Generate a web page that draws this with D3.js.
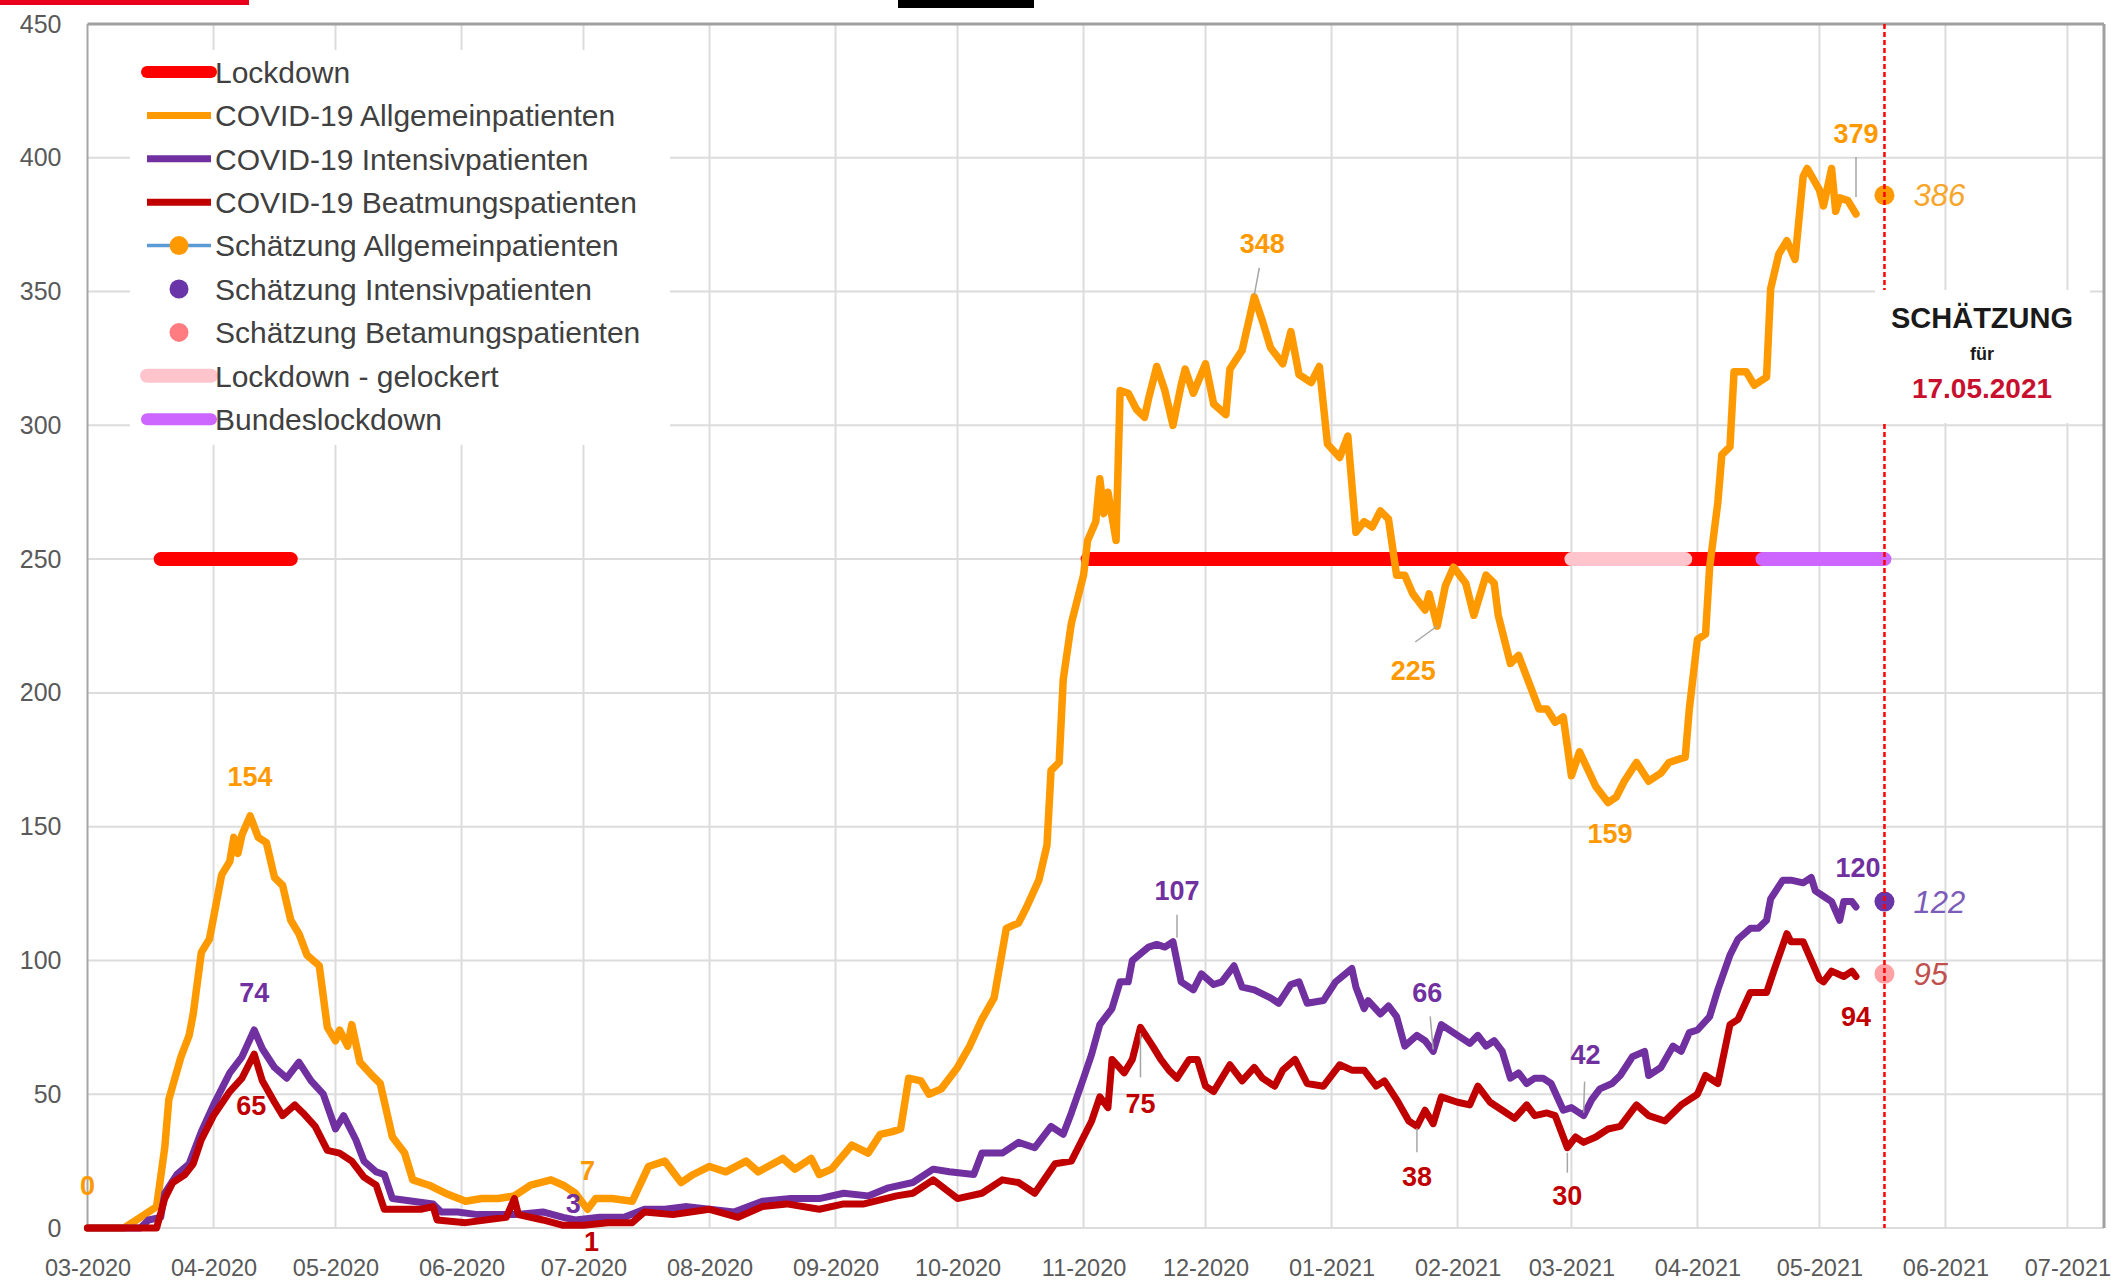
<!DOCTYPE html>
<html>
<head>
<meta charset="utf-8">
<script src="https://cdn.jsdelivr.net/npm/d3@7"></script>
<style>
  html, body { margin: 0; padding: 0; background: #fff; }
  svg { display: block; font-family: "Liberation Sans", Arial, sans-serif; }
</style>
</head>
<body>
<div id="chart"></div>
<script>

// ---- data ----

// COVID-19 Allgemeinpatienten [date, value]
const allgemein = [
  ["2020-03-01", 0], ["2020-03-10", 0], ["2020-03-14", 4], ["2020-03-18", 8], ["2020-03-20", 30], ["2020-03-21", 48],
  ["2020-03-24", 64], ["2020-03-26", 72], ["2020-03-27", 80], ["2020-03-29", 103], ["2020-03-31", 108],
  ["2020-04-03", 132], ["2020-04-05", 137], ["2020-04-06", 146], ["2020-04-07", 140], ["2020-04-08", 147], ["2020-04-10", 154],
  ["2020-04-12", 146], ["2020-04-14", 144], ["2020-04-16", 131], ["2020-04-18", 128], ["2020-04-20", 115], ["2020-04-22", 110],
  ["2020-04-24", 102], ["2020-04-27", 98], ["2020-04-29", 75],
  ["2020-05-01", 70], ["2020-05-02", 74], ["2020-05-04", 68], ["2020-05-05", 76], ["2020-05-07", 62], ["2020-05-10", 57],
  ["2020-05-12", 54], ["2020-05-15", 34], ["2020-05-18", 28], ["2020-05-20", 18], ["2020-05-24", 16], ["2020-05-28", 13],
  ["2020-06-02", 10], ["2020-06-06", 11], ["2020-06-10", 11], ["2020-06-14", 12], ["2020-06-18", 16], ["2020-06-23", 18],
  ["2020-06-26", 16], ["2020-06-29", 13],
  ["2020-07-02", 7], ["2020-07-04", 11], ["2020-07-08", 11], ["2020-07-13", 10], ["2020-07-17", 23], ["2020-07-21", 25],
  ["2020-07-25", 17], ["2020-07-28", 20],
  ["2020-08-01", 23], ["2020-08-05", 21], ["2020-08-10", 25], ["2020-08-13", 21], ["2020-08-19", 26], ["2020-08-22", 22],
  ["2020-08-26", 26], ["2020-08-28", 20], ["2020-08-31", 22],
  ["2020-09-05", 31], ["2020-09-09", 28], ["2020-09-12", 35], ["2020-09-15", 36], ["2020-09-17", 37], ["2020-09-19", 56],
  ["2020-09-22", 55], ["2020-09-24", 50], ["2020-09-27", 52],
  ["2020-10-01", 60], ["2020-10-04", 68], ["2020-10-07", 78], ["2020-10-10", 86], ["2020-10-13", 112], ["2020-10-16", 114],
  ["2020-10-18", 120], ["2020-10-21", 130], ["2020-10-23", 143], ["2020-10-24", 171], ["2020-10-26", 174], ["2020-10-27", 205],
  ["2020-10-29", 226],
  ["2020-11-01", 244], ["2020-11-02", 257], ["2020-11-04", 264], ["2020-11-05", 280], ["2020-11-06", 267], ["2020-11-07", 275],
  ["2020-11-09", 257], ["2020-11-10", 313], ["2020-11-12", 312], ["2020-11-14", 306], ["2020-11-16", 303], ["2020-11-17", 310],
  ["2020-11-19", 322], ["2020-11-21", 313], ["2020-11-23", 300], ["2020-11-25", 315], ["2020-11-26", 321], ["2020-11-28", 312],
  ["2020-12-01", 323], ["2020-12-03", 308], ["2020-12-06", 304], ["2020-12-07", 321], ["2020-12-10", 328], ["2020-12-13", 348],
  ["2020-12-15", 339], ["2020-12-17", 329], ["2020-12-20", 323], ["2020-12-22", 335], ["2020-12-24", 319], ["2020-12-27", 316],
  ["2020-12-29", 322], ["2020-12-31", 293],
  ["2021-01-03", 288], ["2021-01-05", 296], ["2021-01-07", 260], ["2021-01-09", 264], ["2021-01-11", 262], ["2021-01-13", 268],
  ["2021-01-15", 265], ["2021-01-17", 244], ["2021-01-19", 244], ["2021-01-21", 237], ["2021-01-24", 231], ["2021-01-25", 237],
  ["2021-01-27", 225], ["2021-01-29", 240], ["2021-01-31", 247],
  ["2021-02-03", 241], ["2021-02-05", 229], ["2021-02-08", 244], ["2021-02-10", 241], ["2021-02-11", 229], ["2021-02-14", 211],
  ["2021-02-16", 214], ["2021-02-18", 206], ["2021-02-21", 194], ["2021-02-23", 194], ["2021-02-25", 189], ["2021-02-27", 191],
  ["2021-03-01", 169], ["2021-03-03", 178], ["2021-03-07", 165], ["2021-03-10", 159], ["2021-03-12", 161], ["2021-03-14", 167],
  ["2021-03-17", 174], ["2021-03-20", 167], ["2021-03-23", 170], ["2021-03-25", 174], ["2021-03-29", 176], ["2021-03-30", 194],
  ["2021-04-01", 220], ["2021-04-03", 222], ["2021-04-04", 247], ["2021-04-06", 271], ["2021-04-07", 289], ["2021-04-09", 292],
  ["2021-04-10", 320], ["2021-04-13", 320], ["2021-04-15", 315], ["2021-04-18", 318], ["2021-04-19", 351], ["2021-04-21", 364],
  ["2021-04-23", 369], ["2021-04-25", 362], ["2021-04-27", 393], ["2021-04-28", 396],
  ["2021-05-01", 388], ["2021-05-02", 382], ["2021-05-04", 396], ["2021-05-05", 380], ["2021-05-06", 385], ["2021-05-08", 384],
  ["2021-05-10", 379]
];

// COVID-19 Intensivpatienten
const intensiv = [
  ["2020-03-01", 0], ["2020-03-14", 0], ["2020-03-16", 3], ["2020-03-19", 4], ["2020-03-20", 13], ["2020-03-23", 20],
  ["2020-03-26", 24], ["2020-03-29", 36],
  ["2020-04-01", 46], ["2020-04-05", 58], ["2020-04-08", 64], ["2020-04-11", 74], ["2020-04-13", 67], ["2020-04-16", 60],
  ["2020-04-19", 56], ["2020-04-22", 62], ["2020-04-25", 55], ["2020-04-28", 50],
  ["2020-05-01", 37], ["2020-05-03", 42], ["2020-05-06", 33], ["2020-05-08", 25], ["2020-05-11", 21], ["2020-05-13", 20],
  ["2020-05-15", 11], ["2020-05-20", 10], ["2020-05-25", 9], ["2020-05-27", 6], ["2020-05-31", 6],
  ["2020-06-05", 5], ["2020-06-14", 5], ["2020-06-21", 6], ["2020-06-26", 4], ["2020-06-29", 3],
  ["2020-07-05", 4], ["2020-07-11", 4], ["2020-07-16", 7], ["2020-07-21", 7], ["2020-07-26", 8],
  ["2020-08-01", 7], ["2020-08-07", 6], ["2020-08-14", 10], ["2020-08-21", 11], ["2020-08-28", 11],
  ["2020-09-03", 13], ["2020-09-09", 12], ["2020-09-14", 15], ["2020-09-20", 17], ["2020-09-25", 22], ["2020-09-29", 21],
  ["2020-10-05", 20], ["2020-10-07", 28], ["2020-10-12", 28], ["2020-10-16", 32], ["2020-10-20", 30], ["2020-10-24", 38],
  ["2020-10-27", 35], ["2020-10-29", 43],
  ["2020-11-01", 56], ["2020-11-03", 65], ["2020-11-05", 76], ["2020-11-08", 82], ["2020-11-10", 92], ["2020-11-12", 92],
  ["2020-11-13", 100], ["2020-11-17", 105], ["2020-11-19", 106], ["2020-11-21", 105], ["2020-11-23", 107], ["2020-11-25", 92],
  ["2020-11-28", 89], ["2020-11-30", 95],
  ["2020-12-03", 91], ["2020-12-05", 92], ["2020-12-08", 98], ["2020-12-10", 90], ["2020-12-13", 89], ["2020-12-17", 86],
  ["2020-12-19", 84], ["2020-12-22", 91], ["2020-12-24", 92], ["2020-12-26", 84], ["2020-12-30", 85],
  ["2021-01-02", 92], ["2021-01-06", 97], ["2021-01-07", 90], ["2021-01-09", 82], ["2021-01-10", 85], ["2021-01-13", 80],
  ["2021-01-15", 83], ["2021-01-17", 79], ["2021-01-19", 68], ["2021-01-22", 72], ["2021-01-24", 70], ["2021-01-26", 66],
  ["2021-01-28", 76],
  ["2021-02-01", 72], ["2021-02-04", 69], ["2021-02-06", 72], ["2021-02-08", 68], ["2021-02-10", 70], ["2021-02-12", 66],
  ["2021-02-14", 56], ["2021-02-16", 58], ["2021-02-18", 54], ["2021-02-20", 56], ["2021-02-22", 56], ["2021-02-24", 54],
  ["2021-02-27", 44],
  ["2021-03-01", 45], ["2021-03-04", 42], ["2021-03-06", 48], ["2021-03-08", 52], ["2021-03-11", 54], ["2021-03-13", 57],
  ["2021-03-16", 64], ["2021-03-19", 66], ["2021-03-20", 57], ["2021-03-23", 60], ["2021-03-26", 68], ["2021-03-28", 66],
  ["2021-03-30", 73],
  ["2021-04-01", 74], ["2021-04-04", 79], ["2021-04-06", 89], ["2021-04-09", 102], ["2021-04-11", 108], ["2021-04-14", 112],
  ["2021-04-16", 112], ["2021-04-18", 115], ["2021-04-19", 123], ["2021-04-22", 130], ["2021-04-24", 130], ["2021-04-27", 129],
  ["2021-04-29", 131], ["2021-04-30", 126],
  ["2021-05-02", 124], ["2021-05-04", 122], ["2021-05-06", 115], ["2021-05-07", 122], ["2021-05-09", 122], ["2021-05-10", 120]
];

// COVID-19 Beatmungspatienten
const beatmung = [
  ["2020-03-01", 0], ["2020-03-18", 0], ["2020-03-20", 11], ["2020-03-22", 17], ["2020-03-25", 20], ["2020-03-27", 24],
  ["2020-03-29", 33],
  ["2020-04-01", 42], ["2020-04-05", 51], ["2020-04-08", 56], ["2020-04-11", 65], ["2020-04-13", 55], ["2020-04-16", 47],
  ["2020-04-18", 42], ["2020-04-21", 46], ["2020-04-23", 43], ["2020-04-26", 38], ["2020-04-29", 29],
  ["2020-05-02", 28], ["2020-05-05", 25], ["2020-05-08", 19], ["2020-05-11", 16], ["2020-05-13", 7], ["2020-05-22", 7],
  ["2020-05-25", 8], ["2020-05-26", 3],
  ["2020-06-02", 2], ["2020-06-12", 4], ["2020-06-14", 11], ["2020-06-15", 5], ["2020-06-21", 3], ["2020-06-26", 1],
  ["2020-07-01", 1], ["2020-07-07", 2], ["2020-07-13", 2], ["2020-07-16", 6], ["2020-07-23", 5],
  ["2020-08-01", 7], ["2020-08-08", 4], ["2020-08-14", 8], ["2020-08-20", 9], ["2020-08-28", 7],
  ["2020-09-03", 9], ["2020-09-08", 9], ["2020-09-16", 12], ["2020-09-20", 13], ["2020-09-25", 18],
  ["2020-10-01", 11], ["2020-10-07", 13], ["2020-10-12", 18], ["2020-10-16", 17], ["2020-10-20", 13], ["2020-10-25", 24],
  ["2020-10-29", 25],
  ["2020-11-01", 34], ["2020-11-03", 40], ["2020-11-05", 49], ["2020-11-07", 45], ["2020-11-08", 63], ["2020-11-11", 58],
  ["2020-11-13", 63], ["2020-11-15", 75], ["2020-11-18", 68], ["2020-11-20", 63], ["2020-11-22", 59], ["2020-11-24", 56],
  ["2020-11-27", 63], ["2020-11-29", 63],
  ["2020-12-01", 53], ["2020-12-03", 51], ["2020-12-07", 61], ["2020-12-10", 55], ["2020-12-13", 60], ["2020-12-15", 56],
  ["2020-12-18", 53], ["2020-12-20", 59], ["2020-12-23", 63], ["2020-12-26", 54], ["2020-12-30", 53],
  ["2021-01-03", 61], ["2021-01-06", 59], ["2021-01-09", 59], ["2021-01-12", 53], ["2021-01-14", 55], ["2021-01-17", 48],
  ["2021-01-20", 40], ["2021-01-22", 38], ["2021-01-24", 44], ["2021-01-26", 39], ["2021-01-28", 49],
  ["2021-02-01", 47], ["2021-02-04", 46], ["2021-02-06", 53], ["2021-02-09", 47], ["2021-02-12", 44], ["2021-02-15", 41],
  ["2021-02-18", 46], ["2021-02-20", 42], ["2021-02-23", 43], ["2021-02-25", 42], ["2021-02-28", 30],
  ["2021-03-02", 34], ["2021-03-04", 32], ["2021-03-07", 34], ["2021-03-10", 37], ["2021-03-13", 38], ["2021-03-17", 46],
  ["2021-03-20", 42], ["2021-03-24", 40], ["2021-03-28", 46],
  ["2021-04-01", 50], ["2021-04-03", 57], ["2021-04-06", 54], ["2021-04-09", 76], ["2021-04-11", 78], ["2021-04-14", 88],
  ["2021-04-18", 88], ["2021-04-20", 97], ["2021-04-23", 110], ["2021-04-24", 107], ["2021-04-27", 107], ["2021-04-29", 100],
  ["2021-05-01", 93], ["2021-05-02", 92], ["2021-05-04", 96], ["2021-05-07", 94], ["2021-05-09", 96], ["2021-05-10", 94]
];

// estimates for 17.05.2021
const estimateDate = "2021-05-17";
const estimates = [["allg", 386], ["int", 122], ["beat", 95]];

// lockdown periods (drawn as bars at the 250 level)
const lockdownLevel = 250;
const lockdown = [["2020-03-19", "2020-04-20"], ["2020-11-02", "2021-03-01"], ["2021-03-29", "2021-04-17"]];
const lockdownEased = [["2021-03-01", "2021-03-29"]];
const bundesLockdown = [["2021-04-17", "2021-05-17"]];

// value labels [date, value]
const allgLabels = [["2020-03-01", 0], ["2020-04-10", 154], ["2020-07-02", 7], ["2020-12-13", 348],
                    ["2021-01-27", 225], ["2021-03-10", 159], ["2021-05-10", 379]];
const intLabels = [["2020-04-11", 74], ["2020-06-29", 3], ["2020-11-23", 107], ["2021-01-26", 66],
                   ["2021-03-04", 42], ["2021-05-10", 120]];
const beatLabels = [["2020-04-11", 65], ["2020-07-03", 1], ["2020-11-15", 75], ["2021-01-22", 38],
                    ["2021-02-28", 30], ["2021-05-10", 94]];

const yTicks = [0, 50, 100, 150, 200, 250, 300, 350, 400, 450];
const legendLabels = ["Lockdown", "COVID-19 Allgemeinpatienten", "COVID-19 Intensivpatienten",
  "COVID-19 Beatmungspatienten", "Schätzung Allgemeinpatienten", "Schätzung Intensivpatienten",
  "Schätzung Betamungspatienten", "Lockdown - gelockert", "Bundeslockdown"];

// ---- drawing ----

const W = 2111, H = 1282;
const parseDate = d3.timeParse("%Y-%m-%d");

const colors = {
  allg: "#ff9900", int: "#7030a0", beat: "#c00000",
  lockdown: "#ff0000", eased: "#ffc4cc", bund: "#cc66ff"
};

let x = d3.scaleTime()
  .domain([parseDate("2020-03-01"), parseDate("2021-07-10")])
  .range([87.5, 2104]);

let y = d3.scaleLinear()
  .domain([0, 450])
  .range([1228, 24]);

let svg = d3.select("#chart").append("svg")
  .attr("width", W)
  .attr("height", H);

svg.append("rect").attr("width", W).attr("height", H).attr("fill", "#fff");

// remnants of the cropped header
svg.append("rect").attr("x", 0).attr("y", 0).attr("width", 249).attr("height", 5).attr("fill", "#e8001c");
svg.append("rect").attr("x", 898).attr("y", 0).attr("width", 136).attr("height", 8).attr("fill", "#000");

// grid
let months = d3.timeMonth.range(parseDate("2020-03-01"), parseDate("2021-07-02"));
let grid = svg.append("g");

grid.selectAll(".vgrid")
  .data(months.slice(1))
  .join("line")
  .attr("x1", d => x(d)).attr("x2", d => x(d))
  .attr("y1", y(450)).attr("y2", y(0))
  .attr("stroke", "#dcdcdc").attr("stroke-width", 2);

grid.selectAll(".hgrid")
  .data(yTicks.filter(v => v < 450))
  .join("line")
  .attr("x1", x.range()[0]).attr("x2", x.range()[1])
  .attr("y1", d => y(d)).attr("y2", d => y(d))
  .attr("stroke", "#dcdcdc").attr("stroke-width", 2);

// plot frame
svg.append("line").attr("x1", x.range()[0]).attr("x2", x.range()[1]).attr("y1", y(450)).attr("y2", y(450))
  .attr("stroke", "#a0a0a0").attr("stroke-width", 3);
svg.append("line").attr("x1", x.range()[1]).attr("x2", x.range()[1]).attr("y1", y(450)).attr("y2", y(0))
  .attr("stroke", "#a0a0a0").attr("stroke-width", 3);
svg.append("line").attr("x1", x.range()[0]).attr("x2", x.range()[0]).attr("y1", y(450)).attr("y2", y(0))
  .attr("stroke", "#a6a6a6").attr("stroke-width", 2);

// axes
let xAxis = svg.append("g")
  .attr("transform", `translate(0, ${y(0)})`)
  .call(d3.axisBottom(x).tickValues(months).tickFormat(d3.timeFormat("%m-%Y")).tickSize(0));
xAxis.select(".domain").remove();
xAxis.selectAll("text")
  .attr("y", 40).attr("dy", "0.35em")
  .attr("font-size", 23.5).attr("fill", "#595959")
  .attr("font-family", "Liberation Sans, Arial, sans-serif");

let yAxis = svg.append("g")
  .attr("transform", `translate(${x.range()[0]}, 0)`)
  .call(d3.axisLeft(y).tickValues(yTicks).tickSize(0).tickPadding(26));
yAxis.select(".domain").remove();
yAxis.selectAll("text")
  .attr("font-size", 25).attr("fill", "#595959")
  .attr("font-family", "Liberation Sans, Arial, sans-serif");

// lockdown bars
function drawBars(periods, color) {
  svg.append("g").selectAll("line")
    .data(periods)
    .join("line")
    .attr("x1", d => x(parseDate(d[0]))).attr("x2", d => x(parseDate(d[1])))
    .attr("y1", y(lockdownLevel)).attr("y2", y(lockdownLevel))
    .attr("stroke", color).attr("stroke-width", 14).attr("stroke-linecap", "round");
}
drawBars(lockdown, colors.lockdown);
drawBars(lockdownEased, colors.eased);
drawBars(bundesLockdown, colors.bund);

// series lines
let line = d3.line()
  .x(d => x(parseDate(d[0])))
  .y(d => y(d[1]));

[[allgemein, colors.allg, 7.5], [intensiv, colors.int, 7], [beatmung, colors.beat, 7]].forEach(s => {
  svg.append("path")
    .datum(s[0])
    .attr("d", line)
    .attr("fill", "none")
    .attr("stroke", s[1])
    .attr("stroke-width", s[2])
    .attr("stroke-linejoin", "round")
    .attr("stroke-linecap", "round");
});

// estimate dots
let estColors = {allg: "#ff9900", int: "#6a35a8", beat: "#ff8a8e"};
let estLabelColors = {allg: "#f7a62c", int: "#7b5cb8", beat: "#c0504d"};
let ex = x(parseDate(estimateDate));

svg.append("g").selectAll("circle")
  .data(estimates)
  .join("circle")
  .attr("cx", ex).attr("cy", d => y(d[1]))
  .attr("r", 10)
  .attr("fill", d => estColors[d[0]])
  .attr("fill-opacity", d => d[0] === "beat" ? 0.8 : 1);

// dashed marker line for the estimate date
svg.append("line")
  .attr("x1", ex).attr("x2", ex).attr("y1", y(450)).attr("y2", y(0))
  .attr("stroke", "#ff0000").attr("stroke-width", 2.5).attr("stroke-dasharray", "5,3");

svg.append("g").selectAll("text")
  .data(estimates)
  .join("text")
  .attr("x", ex + 29).attr("y", d => y(d[1]))
  .attr("dy", "0.36em")
  .attr("font-size", 31).attr("font-style", "italic")
  .attr("fill", d => estLabelColors[d[0]])
  .text(d => d[1]);

// value labels with optional leader lines (offsets in px from the point)
const labelLayout = {
  "0": {dx: 0, dy: -43},
  "154": {dx: 0, dy: -40},
  "74": {dx: 0, dy: -38},
  "65": {dx: -3, dy: 51},
  "7": {dx: 0, dy: -39},
  "3": {dx: -2, dy: -17},
  "1": {dx: 0, dy: 16},
  "348": {dx: 8, dy: -54, lead: [[5, -29], [0, -2]]},
  "107": {dx: 4, dy: -51, lead: [[4, -27], [4, -4]]},
  "75": {dx: 0, dy: 76, lead: [[0, 6], [0, 50]]},
  "225": {dx: -24, dy: 44, lead: [[-22, 16], [0, 0]]},
  "66": {dx: -6, dy: -59, lead: [[-3, -35], [0, -2]]},
  "38": {dx: 0, dy: 50, lead: [[0, 26], [0, 2]]},
  "42": {dx: 2, dy: -61, lead: [[1, -34], [0, -3]]},
  "30": {dx: 0, dy: 48, lead: [[0, 5], [0, 25]]},
  "159": {dx: 2, dy: 31},
  "379": {dx: 0, dy: -81, lead: [[0, -57], [0, -17]]},
  "120": {dx: 2, dy: -40},
  "94": {dx: 0, dy: 40}
};

let labelGroup = svg.append("g");
[[allgLabels, colors.allg], [intLabels, colors.int], [beatLabels, colors.beat]].forEach(set => {
  set[0].forEach(d => {
    let px = x(parseDate(d[0])), py = y(d[1]);
    let lay = labelLayout[String(d[1])];
    if (lay.lead) {
      labelGroup.append("line")
        .attr("x1", px + lay.lead[0][0]).attr("y1", py + lay.lead[0][1])
        .attr("x2", px + lay.lead[1][0]).attr("y2", py + lay.lead[1][1])
        .attr("stroke", "#a6a6a6").attr("stroke-width", 1.5);
    }
    labelGroup.append("text")
      .attr("x", px + lay.dx).attr("y", py + lay.dy)
      .attr("dy", "0.36em")
      .attr("text-anchor", "middle")
      .attr("font-size", 27).attr("font-weight", "bold")
      .attr("fill", set[1])
      .text(d[1]);
  });
});

// estimate text box
let note = svg.append("g");
note.append("rect")
  .attr("x", 1875).attr("y", 290).attr("width", 215).attr("height", 133)
  .attr("fill", "#fff");
note.append("text").attr("x", 1982).attr("y", 318).attr("dy", "0.36em")
  .attr("text-anchor", "middle").attr("font-size", 29).attr("font-weight", "bold").attr("fill", "#1a1a1a")
  .text("SCHÄTZUNG");
note.append("text").attr("x", 1982).attr("y", 354).attr("dy", "0.36em")
  .attr("text-anchor", "middle").attr("font-size", 18).attr("font-weight", "bold").attr("fill", "#1a1a1a")
  .text("für");
note.append("text").attr("x", 1982).attr("y", 388).attr("dy", "0.36em")
  .attr("text-anchor", "middle").attr("font-size", 28).attr("font-weight", "bold").attr("fill", "#c8102e")
  .text("17.05.2021");

// legend
let legend = svg.append("g");
legend.append("rect")
  .attr("x", 130).attr("y", 50).attr("width", 540).attr("height", 395)
  .attr("fill", "#fff");

const legendTop = 72, legendStep = 43.4, symX0 = 147, symX1 = 211;
const legendStyles = [
  {type: "bar", color: colors.lockdown, w: 12},
  {type: "line", color: colors.allg, w: 7},
  {type: "line", color: colors.int, w: 7},
  {type: "line", color: colors.beat, w: 7},
  {type: "linedot", color: "#5b9bd5", dot: colors.allg},
  {type: "dot", dot: estColors.int},
  {type: "dot", dot: "#ff7c80"},
  {type: "bar", color: colors.eased, w: 14},
  {type: "bar", color: colors.bund, w: 12}
];

legendLabels.forEach((label, i) => {
  let ly = legendTop + i * legendStep;
  let st = legendStyles[i];
  if (st.type === "bar" || st.type === "line") {
    legend.append("line")
      .attr("x1", symX0).attr("x2", symX1).attr("y1", ly).attr("y2", ly)
      .attr("stroke", st.color).attr("stroke-width", st.w)
      .attr("stroke-linecap", st.type === "bar" ? "round" : "butt");
  }
  if (st.type === "linedot") {
    legend.append("line")
      .attr("x1", symX0).attr("x2", symX1).attr("y1", ly).attr("y2", ly)
      .attr("stroke", st.color).attr("stroke-width", 3.5);
  }
  if (st.type === "linedot" || st.type === "dot") {
    legend.append("circle")
      .attr("cx", (symX0 + symX1) / 2).attr("cy", ly).attr("r", 9.5)
      .attr("fill", st.dot);
  }
  legend.append("text")
    .attr("x", 215).attr("y", ly).attr("dy", "0.36em")
    .attr("font-size", 30).attr("fill", "#404040")
    .text(label);
});

</script>
</body>
</html>
